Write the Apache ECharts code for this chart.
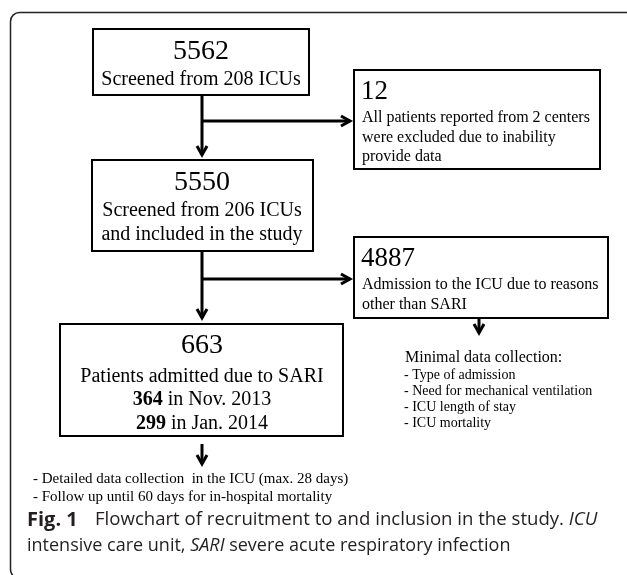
<!DOCTYPE html>
<html>
<head>
<meta charset="utf-8">
<script src="https://cdn.jsdelivr.net/npm/echarts@6/dist/echarts.min.js"></script>
<style>
  html, body { margin: 0; padding: 0; background: #fff; }
  #main { width: 627px; height: 575px; }
</style>
</head>
<body>
<div id="main"></div>
<script>
// counts shown in the boxes
const stepCounts = [5562, 12, 5550, 4887, 663]
const stepLabels = [
  ['Screened from 208 ICUs'],
  ['All patients reported from 2 centers', 'were excluded due to inability', 'provide data'],
  ['Screened from 206 ICUs', 'and included in the study'],
  ['Admission to the ICU due to reasons', 'other than SARI'],
  ['Patients admitted due to SARI']
]
const periodCounts = [364, 299]
const periodNames = ['Nov. 2013', 'Jan. 2014']
const minimalTitle = 'Minimal data collection:'
const minimalItems = ['Type of admission', 'Need for mechanical ventilation', 'ICU length of stay', 'ICU mortality']
const detailItems = ['Detailed data collection  in the ICU (max. 28 days)', 'Follow up until 60 days for in-hospital mortality']

const serif = '"Liberation Serif", "Times New Roman", serif'
const sans = '"Open Sans", "Noto Sans", sans-serif'
const els = []

function box(x, y, w, h, lw) {
  els.push({ type: 'rect', shape: { x: x, y: y, width: w, height: h },
    style: { fill: 'none', stroke: '#000', lineWidth: lw || 2 } })
}
function line(pts, lw) {
  els.push({ type: 'polyline', shape: { points: pts },
    style: { fill: 'none', stroke: '#000', lineWidth: lw || 3, lineJoin: 'miter' } })
}
function arrowDown(x, y1, y2) {
  line([[x, y1], [x, y2]], 3)
  line([[x - 5, y2 - 9], [x, y2], [x + 5, y2 - 9]], 3)
}
function arrowRight(x1, x2, y) {
  line([[x1, y], [x2, y]], 3)
  line([[x2 - 9, y - 5], [x2, y], [x2 - 9, y + 5]], 3)
}
function txt(t, x, y, size, align, extra) {
  els.push({ type: 'text', style: Object.assign({ text: t, x: x, y: y,
    fontSize: size, fontFamily: serif, fill: '#000', align: align || 'center', verticalAlign: 'middle' }, extra || {}) })
}

// outer frame
els.push({ type: 'rect', shape: { x: 10.5, y: 12.5, width: 700, height: 566, r: [9, 0, 0, 9] },
  style: { fill: 'none', stroke: '#222', lineWidth: 1.5 } })

// box 1
box(93, 29, 216, 66)
txt(String(stepCounts[0]), 201, 52, 28)
txt(stepLabels[0][0], 201, 80, 20)
arrowDown(202, 95, 155)
arrowRight(202, 350, 121)

// box 2
box(354, 70, 246, 99)
txt(String(stepCounts[1]), 361, 92, 27, 'left')
stepLabels[1].forEach((s, i) => txt(s, 362, 118 + i * 19.5, 16, 'left'))

// box 3
box(92, 160, 221, 91)
txt(String(stepCounts[2]), 202, 183, 28)
stepLabels[2].forEach((s, i) => txt(s, 202, 211 + i * 24, 20))
arrowDown(202, 251, 318)
arrowRight(202, 350, 279)

// box 4
box(354, 237, 254, 81)
txt(String(stepCounts[3]), 361, 259, 27, 'left')
stepLabels[3].forEach((s, i) => txt(s, 362, 285 + i * 20, 16, 'left'))
arrowDown(479, 318, 333)
txt(minimalTitle, 405, 358, 16, 'left')
minimalItems.forEach((s, i) => txt('- ' + s, 404, 375 + i * 16, 14, 'left'))

// box 5
box(60, 324, 283, 112)
txt(String(stepCounts[4]), 202, 346, 28)
txt(stepLabels[4][0], 202, 377, 20)
periodCounts.forEach((v, i) => txt('{b|' + v + '}{n| in ' + periodNames[i] + '}', 202, 400 + i * 24, 20, 'center',
  { rich: {
    b: { fontWeight: 'bold', fontSize: 20, fontFamily: serif, fill: '#000' },
    n: { fontSize: 20, fontFamily: serif, fill: '#000' } } }))
arrowDown(202, 444, 464)
detailItems.forEach((s, i) => txt('- ' + s, 33, 479 + i * 18, 15, 'left'))

// caption
const capRich = {
  n: { fontSize: 18, fontFamily: sans, fill: '#231f20' },
  i: { fontStyle: 'italic', fontSize: 18, fontFamily: sans, fill: '#231f20' }
}
els.push({ type: 'text', style: {
  text: 'Fig. 1', x: 27, y: 520, fontSize: 20, fontWeight: 'bold', fontFamily: sans,
  fill: '#231f20', verticalAlign: 'middle' } })
els.push({ type: 'text', style: {
  text: '{n|Flowchart of recruitment to and inclusion in the study. }{i|ICU}',
  x: 95, y: 520, fontSize: 18, fontFamily: sans, fill: '#231f20', verticalAlign: 'middle',
  rich: { n: Object.assign({}, capRich.n, { fontSize: 18.6 }), i: Object.assign({}, capRich.i, { fontSize: 18.6 }) } } })
els.push({ type: 'text', style: {
  text: '{n|intensive care unit, }{i|SARI}{n| severe acute respiratory infection}',
  x: 27, y: 546, fontSize: 18, fontFamily: sans, fill: '#231f20', verticalAlign: 'middle', rich: capRich } })

const myChart = echarts.init(document.getElementById('main'))
myChart.setOption({ animation: false, graphic: { elements: els } })
</script>
</body>
</html>
